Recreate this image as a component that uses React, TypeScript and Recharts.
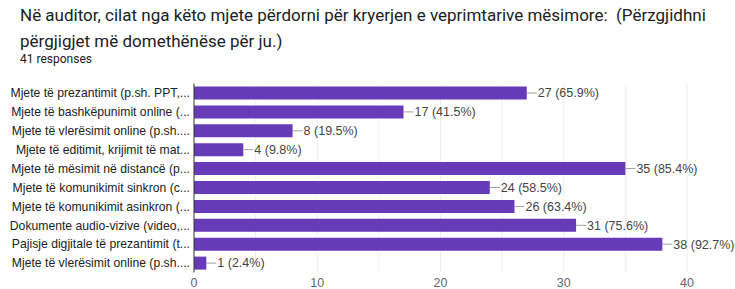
import { Bar, BarChart, CartesianGrid, LabelList, XAxis, YAxis } from "recharts";

const categories = [
  "Mjete të prezantimit (p.sh. PPT,...",
  "Mjete të bashkëpunimit online (...",
  "Mjete të vlerësimit online (p.sh....",
  "Mjete të editimit, krijimit të mat...",
  "Mjete të mësimit në distancë (p...",
  "Mjete të komunikimit sinkron (c...",
  "Mjete të komunikimit asinkron (...",
  "Dokumente audio-vizive (video,...",
  "Pajisje digjitale të prezantimit (t...",
  "Mjete të vlerësimit online (p.sh....",
];
const counts = [27, 17, 8, 4, 35, 24, 26, 31, 38, 1];
const percents = ["65.9%", "41.5%", "19.5%", "9.8%", "85.4%", "58.5%", "63.4%", "75.6%", "92.7%", "2.4%"];
const xTicks = [0, 10, 20, 30, 40];
const gridTicks = [5, 10, 15, 20, 25, 30, 35, 40];

const data = categories.map((name, i) => ({
  id: `c${i}`,
  name,
  count: counts[i],
  label: `${counts[i]} (${percents[i]})`,
}));

const ValueLabel = (props: any) => {
  const { x, y, width, height, value } = props;
  const end = x + width;
  const cy = y + height / 2;
  return (
    <g>
      <line x1={end} x2={end + 10} y1={cy} y2={cy} stroke="#9e9e9e" strokeWidth={1} />
      <text
        x={end + 11}
        y={cy}
        dy="0.35em"
        fontSize={12.5}
        fill="#444"
        fontFamily="Liberation Sans, Arial, sans-serif"
      >
        {value}
      </text>
    </g>
  );
};

const CategoryTick = (props: any) => {
  const { x, y, payload } = props;
  return (
    <text
      x={x}
      y={y}
      dy="0.35em"
      textAnchor="end"
      fontSize={12.2}
      fill="#222"
      fontFamily="Liberation Sans, Arial, sans-serif"
    >
      {categories[payload.index] ?? ""}
    </text>
  );
};

export default function App() {
  return (
    <div
      style={{
        position: "absolute",
        left: 0,
        top: 0,
        width: 735,
        height: 289,
        background: "#fff",
        fontFamily: "Roboto, sans-serif",
      }}
    >
      <div
        style={{
          position: "absolute",
          left: 20,
          top: 2,
          width: 705,
          fontSize: 17,
          lineHeight: "26px",
          color: "#202124",
        }}
      >
        Në auditor, cilat nga këto mjete përdorni për kryerjen e veprimtarive mësimore:&nbsp; (Përzgjidhni
        përgjigjet më domethënëse për ju.)
      </div>
      <div
        style={{
          position: "absolute",
          left: 20,
          top: 52,
          fontSize: 12,
          color: "#202124",
        }}
      >
        41 responses
      </div>
      <div style={{ position: "absolute", left: 0, top: 0 }}>
        <BarChart
          width={735}
          height={289}
          data={data}
          layout="vertical"
          margin={{ top: 83.5, right: 48, left: 0, bottom: 0 }}
          barCategoryGap={3}
        >
          <CartesianGrid
            horizontal={false}
            stroke="#eeeeee"
            verticalValues={gridTicks}
          />
          <XAxis
            type="number"
            domain={[0, 40]}
            ticks={xTicks}
            axisLine={false}
            tickLine={false}
            tickSize={0}
            tickMargin={6}
            height={16.5}
            tick={{ fontSize: 12.5, fill: "#666", fontFamily: "Liberation Sans, Arial, sans-serif" }}
          />
          <YAxis
            type="category"
            dataKey="id"
            width={194}
            axisLine={{ stroke: "#333" }}
            tickLine={false}
            tickSize={0}
            tickMargin={4}
            interval={0}
            tick={<CategoryTick />}
          />
          <Bar dataKey="count" fill="#673ab7" isAnimationActive={false}>
            <LabelList dataKey="label" content={<ValueLabel />} />
          </Bar>
        </BarChart>
      </div>
    </div>
  );
}
